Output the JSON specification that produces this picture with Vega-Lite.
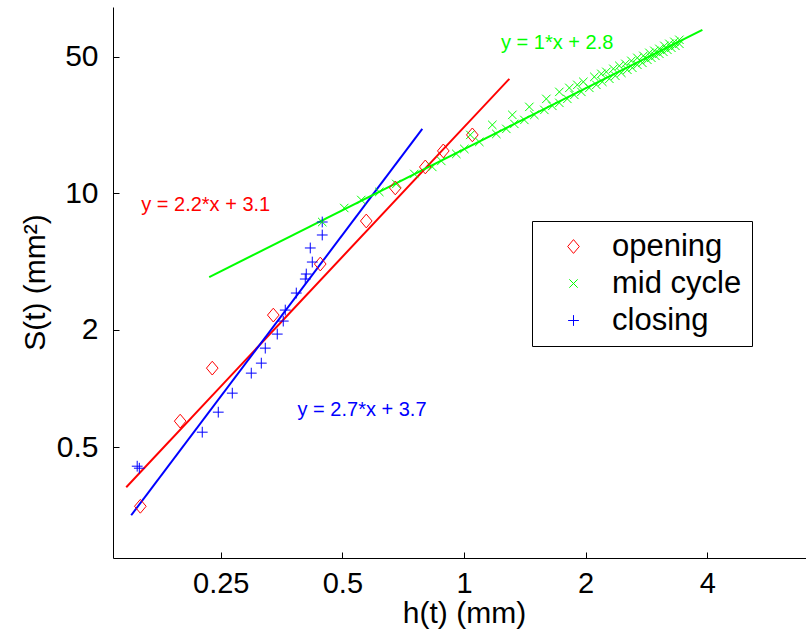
{
  "$schema": "https://vega.github.io/schema/vega-lite/v6.json",
  "width": 693,
  "height": 551,
  "autosize": {"type": "none"},
  "padding": {"left": 113, "top": 7, "right": 0, "bottom": 82},
  "background": "white",
  "config": {
    "font": "Liberation Sans",
    "view": {"stroke": null},
    "axis": {
      "grid": false,
      "domainColor": "black",
      "tickColor": "black",
      "tickSize": -6,
      "labelColor": "black",
      "titleColor": "black",
      "labelFontWeight": "normal",
      "titleFontWeight": "normal"
    },
    "legend": {
      "strokeColor": "black",
      "fillColor": "white",
      "padding": 10,
      "labelFontSize": 31,
      "labelColor": "black",
      "symbolSize": 144,
      "symbolStrokeWidth": 1,
      "symbolOffset": 16,
      "labelOffset": 23,
      "rowPadding": 5
    }
  },
  "datasets": {
    "points": [
      {"series": "opening", "h": 0.1581, "S": 0.249},
      {"series": "opening", "h": 0.1984, "S": 0.680},
      {"series": "opening", "h": 0.2382, "S": 1.271},
      {"series": "opening", "h": 0.3373, "S": 2.376},
      {"series": "opening", "h": 0.4408, "S": 4.34},
      {"series": "opening", "h": 0.5729, "S": 7.21},
      {"series": "opening", "h": 0.6759, "S": 10.65},
      {"series": "opening", "h": 0.802, "S": 13.64},
      {"series": "opening", "h": 0.8887, "S": 16.48},
      {"series": "opening", "h": 1.0485, "S": 19.91},
      {"series": "closing", "h": 0.1553, "S": 0.3996},
      {"series": "closing", "h": 0.1572, "S": 0.3903},
      {"series": "closing", "h": 0.2250, "S": 0.597},
      {"series": "closing", "h": 0.2465, "S": 0.756},
      {"series": "closing", "h": 0.2670, "S": 0.946},
      {"series": "closing", "h": 0.2975, "S": 1.198},
      {"series": "closing", "h": 0.3150, "S": 1.348},
      {"series": "closing", "h": 0.3222, "S": 1.609},
      {"series": "closing", "h": 0.3450, "S": 1.899},
      {"series": "closing", "h": 0.3570, "S": 2.214},
      {"series": "closing", "h": 0.3611, "S": 2.521},
      {"series": "closing", "h": 0.3845, "S": 3.082},
      {"series": "closing", "h": 0.4047, "S": 3.636},
      {"series": "closing", "h": 0.4070, "S": 3.857},
      {"series": "closing", "h": 0.4212, "S": 4.443},
      {"series": "closing", "h": 0.4164, "S": 5.244},
      {"series": "closing", "h": 0.4458, "S": 6.113},
      {"series": "closing", "h": 0.4458, "S": 7.125},
      {"series": "mid cycle", "h": 0.4458, "S": 7.125},
      {"series": "mid cycle", "h": 0.5054, "S": 8.405},
      {"series": "mid cycle", "h": 0.5569, "S": 9.24},
      {"series": "mid cycle", "h": 0.6171, "S": 10.16},
      {"series": "mid cycle", "h": 0.6798, "S": 11.16},
      {"series": "mid cycle", "h": 0.7533, "S": 12.56},
      {"series": "mid cycle", "h": 0.8347, "S": 13.64},
      {"series": "mid cycle", "h": 0.8786, "S": 14.64},
      {"series": "mid cycle", "h": 0.9571, "S": 15.91},
      {"series": "mid cycle", "h": 1.0017, "S": 16.87},
      {"series": "mid cycle", "h": 1.0911, "S": 18.33},
      {"series": "mid cycle", "h": 1.2022, "S": 20.14},
      {"series": "mid cycle", "h": 1.2727, "S": 21.37},
      {"series": "mid cycle", "h": 1.3320, "S": 22.67},
      {"series": "mid cycle", "h": 1.4102, "S": 23.76},
      {"series": "mid cycle", "h": 1.4929, "S": 25.21},
      {"series": "mid cycle", "h": 1.5805, "S": 26.74},
      {"series": "mid cycle", "h": 1.6543, "S": 28.04},
      {"series": "mid cycle", "h": 1.7216, "S": 29.05},
      {"series": "mid cycle", "h": 1.8018, "S": 30.45},
      {"series": "mid cycle", "h": 1.8752, "S": 31.92},
      {"series": "mid cycle", "h": 1.9515, "S": 33.07},
      {"series": "mid cycle", "h": 2.0425, "S": 34.67},
      {"series": "mid cycle", "h": 2.1258, "S": 35.93},
      {"series": "mid cycle", "h": 2.1996, "S": 37.23},
      {"series": "mid cycle", "h": 2.2892, "S": 38.58},
      {"series": "mid cycle", "h": 2.3690, "S": 39.97},
      {"series": "mid cycle", "h": 2.4514, "S": 41.40},
      {"series": "mid cycle", "h": 2.5366, "S": 42.90},
      {"series": "mid cycle", "h": 2.6098, "S": 43.92},
      {"series": "mid cycle", "h": 2.6854, "S": 45.50},
      {"series": "mid cycle", "h": 2.7630, "S": 46.58},
      {"series": "mid cycle", "h": 2.8430, "S": 48.26},
      {"series": "mid cycle", "h": 2.9086, "S": 49.42},
      {"series": "mid cycle", "h": 2.9756, "S": 50.59},
      {"series": "mid cycle", "h": 3.0442, "S": 51.81},
      {"series": "mid cycle", "h": 3.1144, "S": 53.04},
      {"series": "mid cycle", "h": 3.1860, "S": 54.31},
      {"series": "mid cycle", "h": 3.2596, "S": 55.61},
      {"series": "mid cycle", "h": 3.3348, "S": 56.94},
      {"series": "mid cycle", "h": 3.4118, "S": 58.30},
      {"series": "mid cycle", "h": 1.0366, "S": 19.91},
      {"series": "mid cycle", "h": 1.1750, "S": 22.40},
      {"series": "mid cycle", "h": 1.3169, "S": 25.21},
      {"series": "mid cycle", "h": 1.4510, "S": 27.71},
      {"series": "mid cycle", "h": 1.5986, "S": 30.45},
      {"series": "mid cycle", "h": 1.7216, "S": 33.07},
      {"series": "mid cycle", "h": 1.8226, "S": 34.67},
      {"series": "mid cycle", "h": 1.9075, "S": 35.93},
      {"series": "mid cycle", "h": 1.9739, "S": 37.23},
      {"series": "mid cycle", "h": 2.1016, "S": 39.49},
      {"series": "mid cycle", "h": 2.1872, "S": 40.91},
      {"series": "mid cycle", "h": 2.2504, "S": 41.89},
      {"series": "mid cycle", "h": 2.3422, "S": 43.42},
      {"series": "mid cycle", "h": 2.4236, "S": 44.97},
      {"series": "mid cycle", "h": 2.5080, "S": 46.04},
      {"series": "mid cycle", "h": 2.5950, "S": 47.70},
      {"series": "mid cycle", "h": 2.6854, "S": 49.42},
      {"series": "mid cycle", "h": 2.7788, "S": 50.59},
      {"series": "mid cycle", "h": 2.8756, "S": 52.43},
      {"series": "mid cycle", "h": 2.9588, "S": 53.67},
      {"series": "mid cycle", "h": 3.0442, "S": 54.95},
      {"series": "mid cycle", "h": 3.1322, "S": 56.94},
      {"series": "mid cycle", "h": 3.2226, "S": 58.30},
      {"series": "mid cycle", "h": 3.3158, "S": 59.70},
      {"series": "mid cycle", "h": 3.4118, "S": 61.13}
    ],
    "fits": [
      {"series": "opening", "h": 0.1459, "S": 0.3118},
      {"series": "opening", "h": 1.2946, "S": 38.58},
      {"series": "closing", "h": 0.1501, "S": 0.2240},
      {"series": "closing", "h": 0.7884, "S": 21.37},
      {"series": "mid cycle", "h": 0.2341, "S": 3.723},
      {"series": "mid cycle", "h": 3.890, "S": 68.8}
    ],
    "labels": [
      {"series": "opening", "label": "y = 2.2*x + 3.1", "h": 0.1589, "S": 8.71},
      {"series": "closing", "label": "y = 2.7*x + 3.7", "h": 0.3873, "S": 0.774},
      {"series": "mid cycle", "label": "y = 1*x + 2.8", "h": 1.2348, "S": 58.8}
    ]
  },
  "layer": [
    {
      "data": {"name": "fits"},
      "mark": {"type": "line", "strokeWidth": 2, "clip": true},
      "encoding": {
        "x": {"field": "h", "type": "quantitative", "scale": {"type": "log", "domain": [0.1353, 7.02], "nice": false}},
        "y": {"field": "S", "type": "quantitative", "scale": {"type": "log", "domain": [0.1353, 90.02], "nice": false}},
        "color": {"field": "series", "type": "nominal", "scale": {"domain": ["opening", "mid cycle", "closing"], "range": ["#ff0000", "#00ff00", "#0000ff"]}, "legend": null}
      }
    },
    {
      "data": {"name": "points"},
      "mark": {"type": "point", "filled": false, "strokeWidth": 1, "size": 144, "opacity": 1, "clip": true},
      "encoding": {
        "x": {"field": "h", "type": "quantitative", "scale": {"type": "log", "domain": [0.1353, 7.02], "nice": false},
          "axis": {"title": "h(t) (mm)", "values": [0.25, 0.5, 1, 2, 4], "format": "~g", "labelFontSize": 29, "labelPadding": 17, "titleFontSize": 30, "titleX": 351, "titleY": 55, "titleBaseline": "middle", "labelFlush": false}},
        "y": {"field": "S", "type": "quantitative", "scale": {"type": "log", "domain": [0.1353, 90.02], "nice": false},
          "axis": {"title": "S(t) (mm²)", "values": [0.5, 2, 10, 50], "format": "~g", "labelFontSize": 30, "labelPadding": 21, "titleFontSize": 30, "titleX": -78, "titleY": 275, "titleAngle": -90, "titleAlign": "center", "titleBaseline": "middle", "labelFlush": false}},
        "color": {"field": "series", "type": "nominal", "scale": {"domain": ["opening", "mid cycle", "closing"], "range": ["#ff0000", "#00ff00", "#0000ff"]},
          "legend": {"title": null, "orient": "none", "legendX": 419, "legendY": 214}},
        "shape": {"field": "series", "type": "nominal", "scale": {"domain": ["opening", "mid cycle", "closing"], "range": ["M0,-1.15L0.97,0L0,1.15L-0.97,0Z", "M-0.7,-0.7L0.7,0.7M-0.7,0.7L0.7,-0.7", "M-0.9,0L0.9,0M0,-0.9L0,0.9"]},
          "legend": {"title": null, "orient": "none", "legendX": 419, "legendY": 214}}
      }
    },
    {
      "data": {"name": "labels"},
      "mark": {"type": "text", "align": "left", "baseline": "middle", "fontSize": 20},
      "encoding": {
        "x": {"field": "h", "type": "quantitative", "scale": {"type": "log", "domain": [0.1353, 7.02], "nice": false}},
        "y": {"field": "S", "type": "quantitative", "scale": {"type": "log", "domain": [0.1353, 90.02], "nice": false}},
        "text": {"field": "label"},
        "color": {"field": "series", "type": "nominal", "scale": {"domain": ["opening", "mid cycle", "closing"], "range": ["#ff0000", "#00ff00", "#0000ff"]}, "legend": null}
      }
    }
  ],
  "resolve": {"scale": {"color": "independent", "shape": "independent"}}
}
